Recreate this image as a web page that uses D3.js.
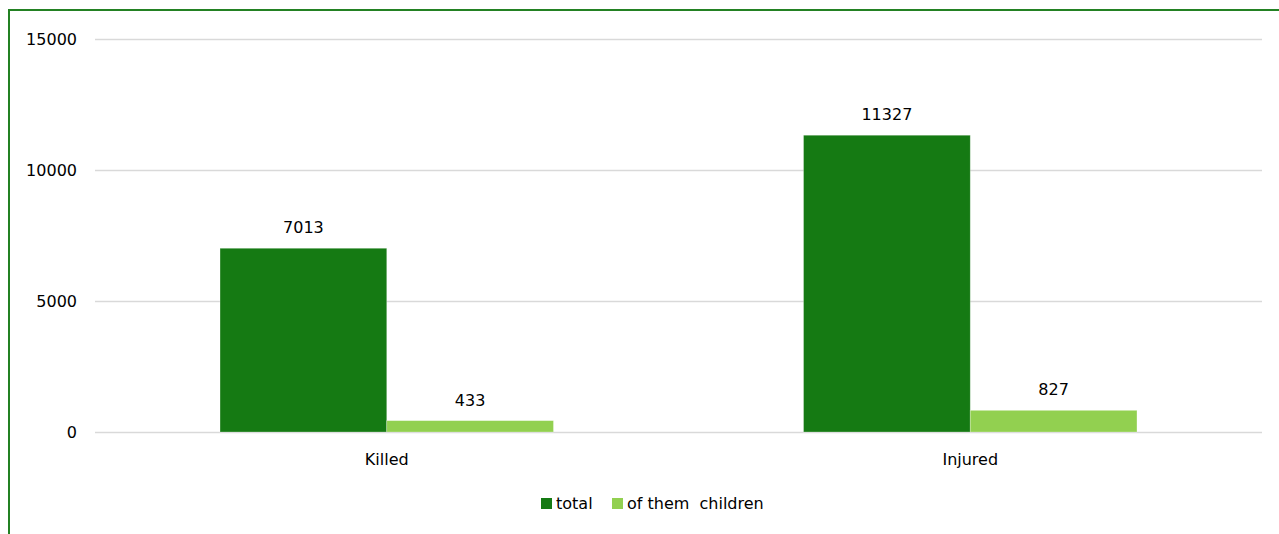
<!DOCTYPE html>
<html>
<head>
<meta charset="utf-8">
<script src="https://cdn.jsdelivr.net/npm/d3@7"></script>
<style>
  html, body { margin: 0; padding: 0; background: #fff; }
  svg { display: block; font-family: "DejaVu Sans", Verdana, sans-serif; }
</style>
</head>
<body>
<svg id="chart" width="1279" height="534"></svg>
<script>
const categories = ["Killed", "Injured"];
const seriesNames = ["total", "of them  children"];
const totalValues = [7013, 11327];
const childrenValues = [433, 827];
const yTicks = [0, 5000, 10000, 15000];
const colors = ["#157a13", "#92d050"];

(function () {
const svg = d3.select("#chart");
const W = 1279, H = 534;
const mLeft = 95, mRight = 1262, mTop = 39, mBottom = 432;

// outer border
svg.append("rect")
  .attr("x", 9).attr("y", 10)
  .attr("width", W + 10).attr("height", H + 10)
  .attr("fill", "none").attr("stroke", "#238123").attr("stroke-width", 2);

const y = d3.scaleLinear().domain([0, 15000]).range([mBottom, mTop]);
const x0 = d3.scaleBand().domain(categories).range([mLeft, mRight]).padding(0);
const x1 = d3.scaleBand().domain(seriesNames).range([0, x0.bandwidth()])
  .paddingInner(0).paddingOuter(0.75);

// gridlines
const yAxis = d3.axisLeft(y).tickValues(yTicks).tickSize(-(mRight - mLeft)).tickPadding(18).tickFormat(d3.format("d"));
const gy = svg.append("g").attr("transform", `translate(${mLeft},0)`).call(yAxis);
gy.select(".domain").remove();
gy.selectAll(".tick line").attr("stroke", "#d9d9d9").attr("stroke-width", 1.5);
gy.selectAll(".tick text").attr("font-size", 16).attr("fill", "#000")
  .attr("font-family", "DejaVu Sans, sans-serif");

// bars
const data = categories.map((c, i) => ({
  cat: c,
  values: [
    { key: seriesNames[0], value: totalValues[i], color: colors[0] },
    { key: seriesNames[1], value: childrenValues[i], color: colors[1] }
  ]
}));

const groups = svg.append("g").selectAll("g").data(data).join("g")
  .attr("transform", d => `translate(${x0(d.cat)},0)`);

groups.selectAll("rect").data(d => d.values).join("rect")
  .attr("x", d => x1(d.key))
  .attr("y", d => y(d.value))
  .attr("width", x1.bandwidth())
  .attr("height", d => y(0) - y(d.value))
  .attr("fill", d => d.color)
  .attr("stroke", "#ffffff").attr("stroke-opacity", 0.35).attr("stroke-width", 0.75);

groups.selectAll("text.val").data(d => d.values).join("text")
  .attr("class", "val")
  .attr("x", d => x1(d.key) + x1.bandwidth() / 2)
  .attr("y", d => y(d.value) - 15)
  .attr("text-anchor", "middle")
  .attr("font-size", 16).attr("fill", "#000")
  .text(d => d.value);

// x axis labels
const xAxis = d3.axisBottom(x0).tickSize(0).tickPadding(22);
const gx = svg.append("g").attr("transform", `translate(0,${mBottom})`).call(xAxis);
gx.select(".domain").remove();
gx.selectAll(".tick text").attr("font-size", 16).attr("fill", "#000")
  .attr("font-family", "DejaVu Sans, sans-serif");

// legend
const legendX = [541, 612];
const legend = svg.append("g");
seriesNames.forEach((s, i) => {
  legend.append("rect").attr("x", legendX[i]).attr("y", 498).attr("width", 11).attr("height", 11).attr("fill", colors[i]);
  legend.append("text").attr("x", legendX[i] + 15).attr("y", 509)
    .attr("font-size", 16).attr("fill", "#000")
    .attr("xml:space", "preserve").style("white-space", "pre")
    .text(s);
});
})();
</script>
</body>
</html>
